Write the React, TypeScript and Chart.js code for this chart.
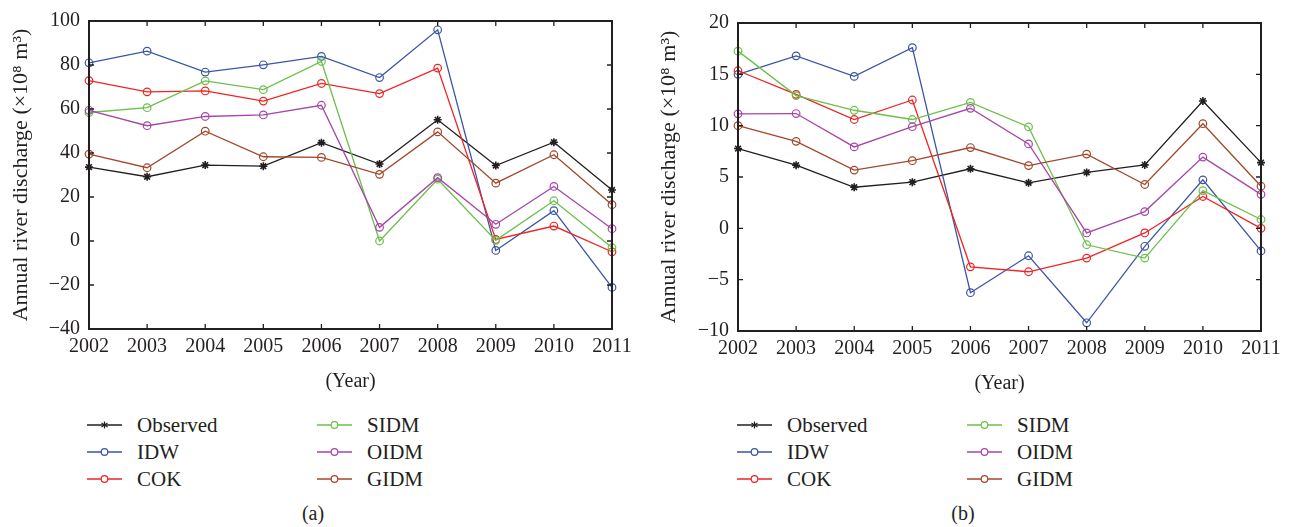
import React, { useEffect, useRef } from "react";
import { Chart, registerables } from "chart.js";
Chart.register(...registerables);

const years = ["2002", "2003", "2004", "2005", "2006", "2007", "2008", "2009", "2010", "2011"];
const seriesNames = ["Observed", "IDW", "COK", "SIDM", "OIDM", "GIDM"];
const seriesColors = ["#231f20", "#3b54a5", "#ee2424", "#6cbf4a", "#a546a8", "#a3472a"];

// Panel (a)
const observedA = [33.6, 29.2, 34.5, 34.0, 44.7, 35.0, 55.1, 34.3, 44.9, 23.2];
const idwA = [81.0, 86.3, 76.8, 80.1, 83.9, 74.3, 96.0, -4.3, 13.8, -21.1];
const cokA = [72.9, 67.8, 68.2, 63.6, 71.6, 67.0, 78.6, 0.7, 6.8, -4.9];
const sidmA = [58.4, 60.6, 72.8, 68.8, 81.6, 0.0, 28.1, 0.3, 18.3, -3.0];
const oidmA = [59.4, 52.4, 56.6, 57.3, 61.7, 6.2, 28.8, 7.6, 24.8, 5.6];
const gidmA = [39.5, 33.3, 49.9, 38.3, 38.0, 30.3, 49.6, 26.3, 39.2, 16.5];

// Panel (b)
const observedB = [7.77, 6.15, 4.0, 4.5, 5.8, 4.43, 5.45, 6.18, 12.4, 6.4];
const idwB = [15.0, 16.8, 14.8, 17.6, -6.27, -2.67, -9.2, -1.75, 4.72, -2.2];
const cokB = [15.35, 13.05, 10.6, 12.5, -3.75, -4.23, -2.9, -0.45, 3.1, 0.0];
const sidmB = [17.26, 12.93, 11.5, 10.6, 12.26, 9.88, -1.6, -2.9, 3.67, 0.86];
const oidmB = [11.15, 11.18, 7.93, 9.9, 11.69, 8.22, -0.45, 1.63, 6.94, 3.31];
const gidmB = [10.0, 8.47, 5.67, 6.59, 7.87, 6.11, 7.23, 4.27, 10.19, 4.1];

const yRangeA = { min: -40, max: 100, step: 20 };
const yRangeB = { min: -10, max: 20, step: 5 };

const yTitle = "Annual river discharge (\u00d710\u2078 m\u00b3)";
const xTitle = "(Year)";
const panelLabels = ["(a)", "(b)"];

const FONT = "'Liberation Serif', 'DejaVu Serif', serif";
const TEXT = "#231f20";

const framePlugin = {
  id: "frame",
  afterDatasetsDraw(chart: any) {
    const { ctx, chartArea: a, scales } = chart;
    ctx.save();
    ctx.strokeStyle = TEXT;
    ctx.lineWidth = 1.3;
    const L = 5;
    ctx.beginPath();
    scales.x.ticks.forEach((_t: any, i: number) => {
      const px = scales.x.getPixelForTick(i);
      ctx.moveTo(px, a.bottom);
      ctx.lineTo(px, a.bottom - L);
      ctx.moveTo(px, a.top);
      ctx.lineTo(px, a.top + L);
    });
    scales.y.ticks.forEach((_t: any, i: number) => {
      const py = scales.y.getPixelForTick(i);
      ctx.moveTo(a.left, py);
      ctx.lineTo(a.left + L, py);
      ctx.moveTo(a.right, py);
      ctx.lineTo(a.right - L, py);
    });
    ctx.stroke();
    ctx.lineWidth = 2;
    ctx.strokeRect(a.left, a.top, a.right - a.left, a.bottom - a.top);
    ctx.restore();
  },
};

function LineChart(props: {
  series: number[][];
  range: { min: number; max: number; step: number };
  yWidth: number;
  padTop: number;
  padRight: number;
}) {
  const ref = useRef<HTMLCanvasElement | null>(null);
  useEffect(() => {
    if (!ref.current) return;
    const datasets = props.series.map((vals, i) => ({
      label: seriesNames[i],
      data: vals,
      borderColor: seriesColors[i],
      backgroundColor: "rgba(0,0,0,0)",
      borderWidth: 1.3,
      pointStyle: i === 0 ? "star" : "circle",
      pointRadius: i === 0 ? 4 : 3.8,
      pointBorderWidth: i === 0 ? 1.6 : 1.2,
      pointBorderColor: seriesColors[i],
      pointBackgroundColor: "rgba(0,0,0,0)",
      tension: 0,
      clip: false as any,
    }));
    const chart = new Chart(ref.current, {
      type: "line",
      data: { labels: years, datasets: datasets.slice().reverse() as any },
      options: {
        animation: false,
        responsive: false,
        maintainAspectRatio: false,
        layout: { padding: { left: 0, top: props.padTop, right: props.padRight, bottom: 0 } },
        plugins: { legend: { display: false }, tooltip: { enabled: false } },
        scales: {
          x: {
            type: "category",
            offset: false,
            grid: { display: false, drawTicks: false },
            border: { display: false },
            ticks: { color: TEXT, font: { family: FONT, size: 20 }, padding: 6, maxRotation: 0, autoSkip: false },
            title: { display: true, text: xTitle, color: TEXT, font: { family: FONT, size: 20 }, padding: { top: 0, bottom: 6 } },
            afterFit: (s: any) => {
              s.height = 71;
            },
          },
          y: {
            type: "linear",
            min: props.range.min,
            max: props.range.max,
            grid: { display: false, drawTicks: false },
            border: { display: false },
            ticks: {
              stepSize: props.range.step,
              color: TEXT,
              font: { family: FONT, size: 20 },
              padding: 9,
              callback: (v: any) => (Number(v) < 0 ? "\u2212" + Math.abs(Number(v)) : String(v)),
            },
            title: { display: true, text: yTitle, color: TEXT, font: { family: FONT, size: 22 }, padding: { top: 8, bottom: 0 } },
            afterFit: (s: any) => {
              s.width = props.yWidth;
            },
          },
        },
      },
      plugins: [framePlugin],
    });
    return () => chart.destroy();
  }, []);
  return <canvas ref={ref} width={648} height={400} style={{ width: 648, height: 400, display: "block" }} />;
}

function LegendSample(props: { idx: number }) {
  const c = seriesColors[props.idx];
  return (
    <svg width={36} height={12} style={{ display: "block" }}>
      <line x1={0} y1={6} x2={35} y2={6} stroke={c} strokeWidth={1.3} />
      {props.idx === 0 ? (
        <g stroke={c} strokeWidth={1.2}>
          <line x1={17.5} y1={2.5} x2={17.5} y2={9.5} />
          <line x1={14.5} y1={4} x2={20.5} y2={8} />
          <line x1={14.5} y1={8} x2={20.5} y2={4} />
        </g>
      ) : (
        <circle cx={17.5} cy={6} r={3.3} fill="white" stroke={c} strokeWidth={1.2} />
      )}
    </svg>
  );
}

function Legend(props: { col1: number; col2: number; label: string; labelX: number }) {
  const rowsY = [425, 452, 479];
  const items = seriesNames.map((name, i) => {
    const col = i < 3 ? props.col1 : props.col2;
    const y = rowsY[i % 3];
    return (
      <div key={name} style={{ position: "absolute", left: col, top: y - 14, height: 28, display: "flex", alignItems: "center" }}>
        <LegendSample idx={i} />
        <span style={{ marginLeft: 14, fontFamily: FONT, fontSize: 21, color: TEXT, lineHeight: "28px", whiteSpace: "nowrap" }}>{name}</span>
      </div>
    );
  });
  return (
    <>
      {items}
      <div style={{ position: "absolute", left: props.labelX - 30, width: 60, top: 499, textAlign: "center", fontFamily: FONT, fontSize: 20, color: TEXT, lineHeight: "28px" }}>
        {props.label}
      </div>
    </>
  );
}

export default function App() {
  return (
    <div style={{ position: "fixed", left: 0, top: 0, width: 1296, height: 527, background: "white", overflow: "hidden" }}>
      <div style={{ position: "absolute", left: 0, top: 0 }}>
        <LineChart series={[observedA, idwA, cokA, sidmA, oidmA, gidmA]} range={yRangeA} yWidth={89} padTop={15} padRight={36} />
      </div>
      <div style={{ position: "absolute", left: 648, top: 2 }}>
        <LineChart series={[observedB, idwB, cokB, sidmB, oidmB, gidmB]} range={yRangeB} yWidth={90} padTop={15} padRight={35} />
      </div>
      <Legend col1={87} col2={317} label={panelLabels[0]} labelX={313} />
      <Legend col1={737} col2={967} label={panelLabels[1]} labelX={963} />
    </div>
  );
}
